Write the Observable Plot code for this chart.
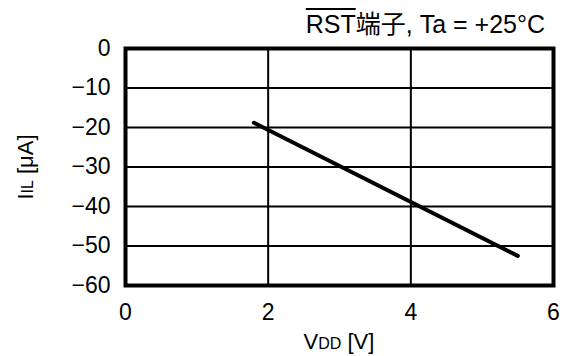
<!DOCTYPE html>
<html>
<head>
<meta charset="utf-8">
<script src="https://cdn.jsdelivr.net/npm/d3@7"></script>
<script src="https://cdn.jsdelivr.net/npm/@observablehq/plot@0.6"></script>
<style>
  html, body { margin: 0; padding: 0; background: #fff; }
  #wrap { position: relative; width: 564px; height: 356px; font-family: "Liberation Sans", Arial, "Noto Sans CJK JP", sans-serif; }
  #title { position: absolute; right: 19px; top: 4px; font-size: 25px; color: #000; white-space: nowrap; }
  #title .ov { text-decoration: overline; }
</style>
</head>
<body>
<div id="wrap">
  <div id="title"><span class="ov">RST</span>端子, Ta = +25°C</div>
</div>
<script>
const vdd = [1.8, 5.5];
const iil = [-18.8, -52.5];
const xTicks = [0, 2, 4, 6];
const yTicks = [0, -10, -20, -30, -40, -50, -60];
const xGrid = [2, 4];
const yGrid = [-10, -20, -30, -40, -50];

const data = vdd.map((x, i) => ({x, y: iil[i]}));

const chart = Plot.plot({
  width: 564,
  height: 356,
  marginLeft: 125,
  marginRight: 11,
  marginTop: 48,
  marginBottom: 71,
  style: {fontFamily: '"Liberation Sans", Arial, sans-serif', fontSize: "23px", color: "#000", background: "transparent", overflow: "visible"},
  x: {domain: [0, 6], ticks: xTicks, tickFormat: "d", tickSize: 0, tickPadding: 18, label: null},
  y: {domain: [-60, 0], ticks: yTicks, tickFormat: "d", tickSize: 0, tickPadding: 15, label: null},
  marks: [
    Plot.gridX(xGrid, {stroke: "#000", strokeOpacity: 1, strokeWidth: 2}),
    Plot.gridY(yGrid, {stroke: "#000", strokeOpacity: 1, strokeWidth: 2}),
    Plot.frame({stroke: "#000", strokeWidth: 4}),
    Plot.line(data, {x: "x", y: "y", stroke: "#000", strokeWidth: 4})
  ]
});
chart.style.position = "absolute";
chart.style.left = "0";
chart.style.top = "0";
document.getElementById("wrap").appendChild(chart);

const svg = d3.select(chart);
const xl = svg.append("text")
  .attr("x", 339).attr("y", 349)
  .attr("text-anchor", "middle")
  .attr("font-size", 22).attr("fill", "#000");
xl.append("tspan").text("V");
xl.append("tspan").attr("font-size", 16).text("DD");
xl.append("tspan").text(" [V]");

const yl = svg.append("text")
  .attr("transform", "translate(33,167) rotate(-90)")
  .attr("text-anchor", "middle")
  .attr("font-size", 22).attr("fill", "#000");
yl.append("tspan").text("I");
yl.append("tspan").attr("font-size", 16).text("IL");
yl.append("tspan").text(" [μA]");
</script>
</body>
</html>
